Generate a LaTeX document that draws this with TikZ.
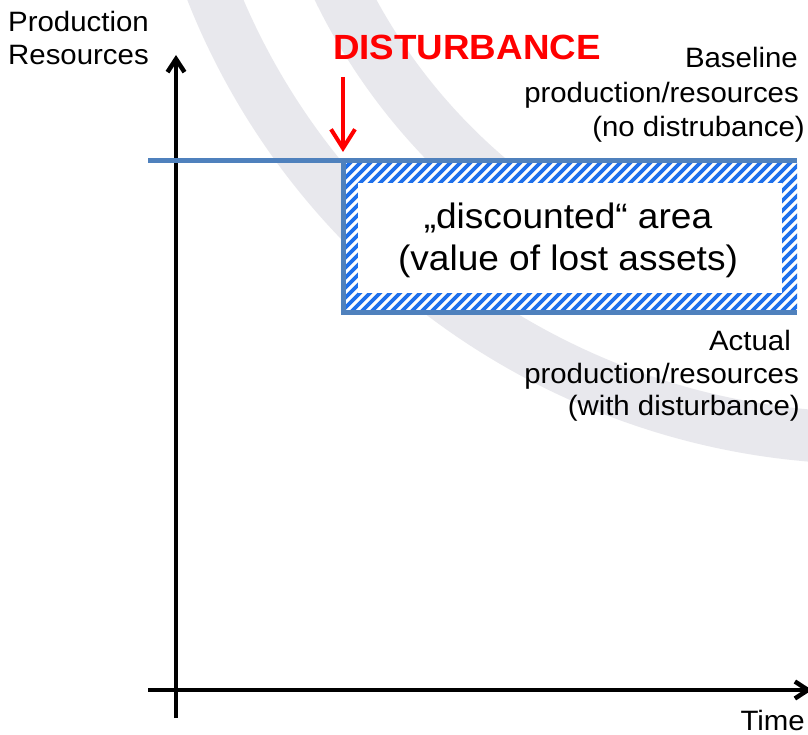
\documentclass[tikz,border=0pt]{standalone}
\usepackage{fontspec}
\setmainfont[FakeStretch=1.05]{Liberation Sans}
\usetikzlibrary{arrows.meta}

\definecolor{watermark}{RGB}{232,232,237}
\definecolor{lineblue}{RGB}{79,129,189}
\definecolor{hatchblue}{RGB}{30,112,235}
\definecolor{alertred}{RGB}{255,0,0}

\begin{document}
\begin{tikzpicture}[x=1pt,y=-1pt,
  lbl/.style={inner sep=0pt, font=\fontsize{28}{33}\selectfont},
  arealbl/.style={inner sep=0pt, font=\fontsize{35.3}{42}\selectfont},
  axisline/.style={black, line width=4.5pt, -{Straight Barb[length=13pt,width=17pt]}},
  curve/.style={lineblue, line width=5pt},
  hatch/.style={hatchblue, line width=3.6pt},
  band/.style={watermark},
  alertarrow/.style={alertred, line width=4pt, -{Straight Barb[length=19pt,width=24pt]}}]

\useasboundingbox (0,0) rectangle (808,735);
\fill[white] (0,0) rectangle (808,735);

% faint curved bands in the background
\draw[band, line width=52pt] (870,-270) ++(170:708) arc[start angle=170, end angle=80, radius=708];
\draw[band, line width=55pt] (870,-270) ++(165:590) arc[start angle=165, end angle=118, radius=590];

% key points of the production curves
\coordinate (blstart) at (148,161);
\coordinate (dist)    at (343,161);
\coordinate (blend)   at (797,161);
\coordinate (drop)    at (343,312);
\coordinate (acend)   at (797,312);

% axes
\coordinate (ystart) at (176,718);
\coordinate (yend)   at (176,55);
\coordinate (xstart) at (148,690);
\coordinate (xend)   at (812,690);
\draw[axisline] (ystart) -- (yend);
\draw[axisline] (xstart) -- (xend);

% hatched loss area between the two curves
\begin{scope}
  \clip (dist) rectangle (acend);
  \fill[white] (dist) rectangle (acend);
  \foreach \i in {0,...,63}
    \draw[hatch] (183+10*\i,320) -- ++(170,-170);
\end{scope}
\node[fill=white, inner sep=0pt, minimum width=424pt, minimum height=110pt] (area) at (570,238) {};

% baseline and actual production curves
\draw[curve] (blstart) -- (blend);
\draw[curve, line join=miter] (dist) -- (drop) -- (acend);

% disturbance marker
\node[inner sep=0pt, anchor=base west, text=alertred,
      font=\fontsize{35}{40}\selectfont\bfseries] (dlabel) at (333,60) {DISTURBANCE};
\coordinate (atop) at (343,77);
\draw[alertarrow, shorten >=9pt] (atop) -- (dist);

% axis labels
\node[lbl, anchor=base west] (prod) at (8,32) {Production};
\node[lbl, anchor=base west] (res)  at (8,65) {Resources};
\node[lbl, anchor=base east] (time) at (805,730) {Time};

% curve labels
\node[lbl, anchor=base east] (bl1) at (798,68)  {Baseline};
\node[lbl, anchor=base east] (bl2) at (799,103) {production/resources};
\node[lbl, anchor=base east] (bl3) at (805,137) {(no distrubance)};
\node[lbl, anchor=base east] (ac1) at (791,350) {Actual};
\node[lbl, anchor=base east] (ac2) at (799,383) {production/resources};
\node[lbl, anchor=base east] (ac3) at (800,415) {(with disturbance)};

% text inside the loss area
\node[arealbl, anchor=base] (area1) at (568,229) {„discounted“ area};
\node[arealbl, anchor=base] (area2) at (568,271) {(value of lost assets)};
\end{tikzpicture}
\end{document}
